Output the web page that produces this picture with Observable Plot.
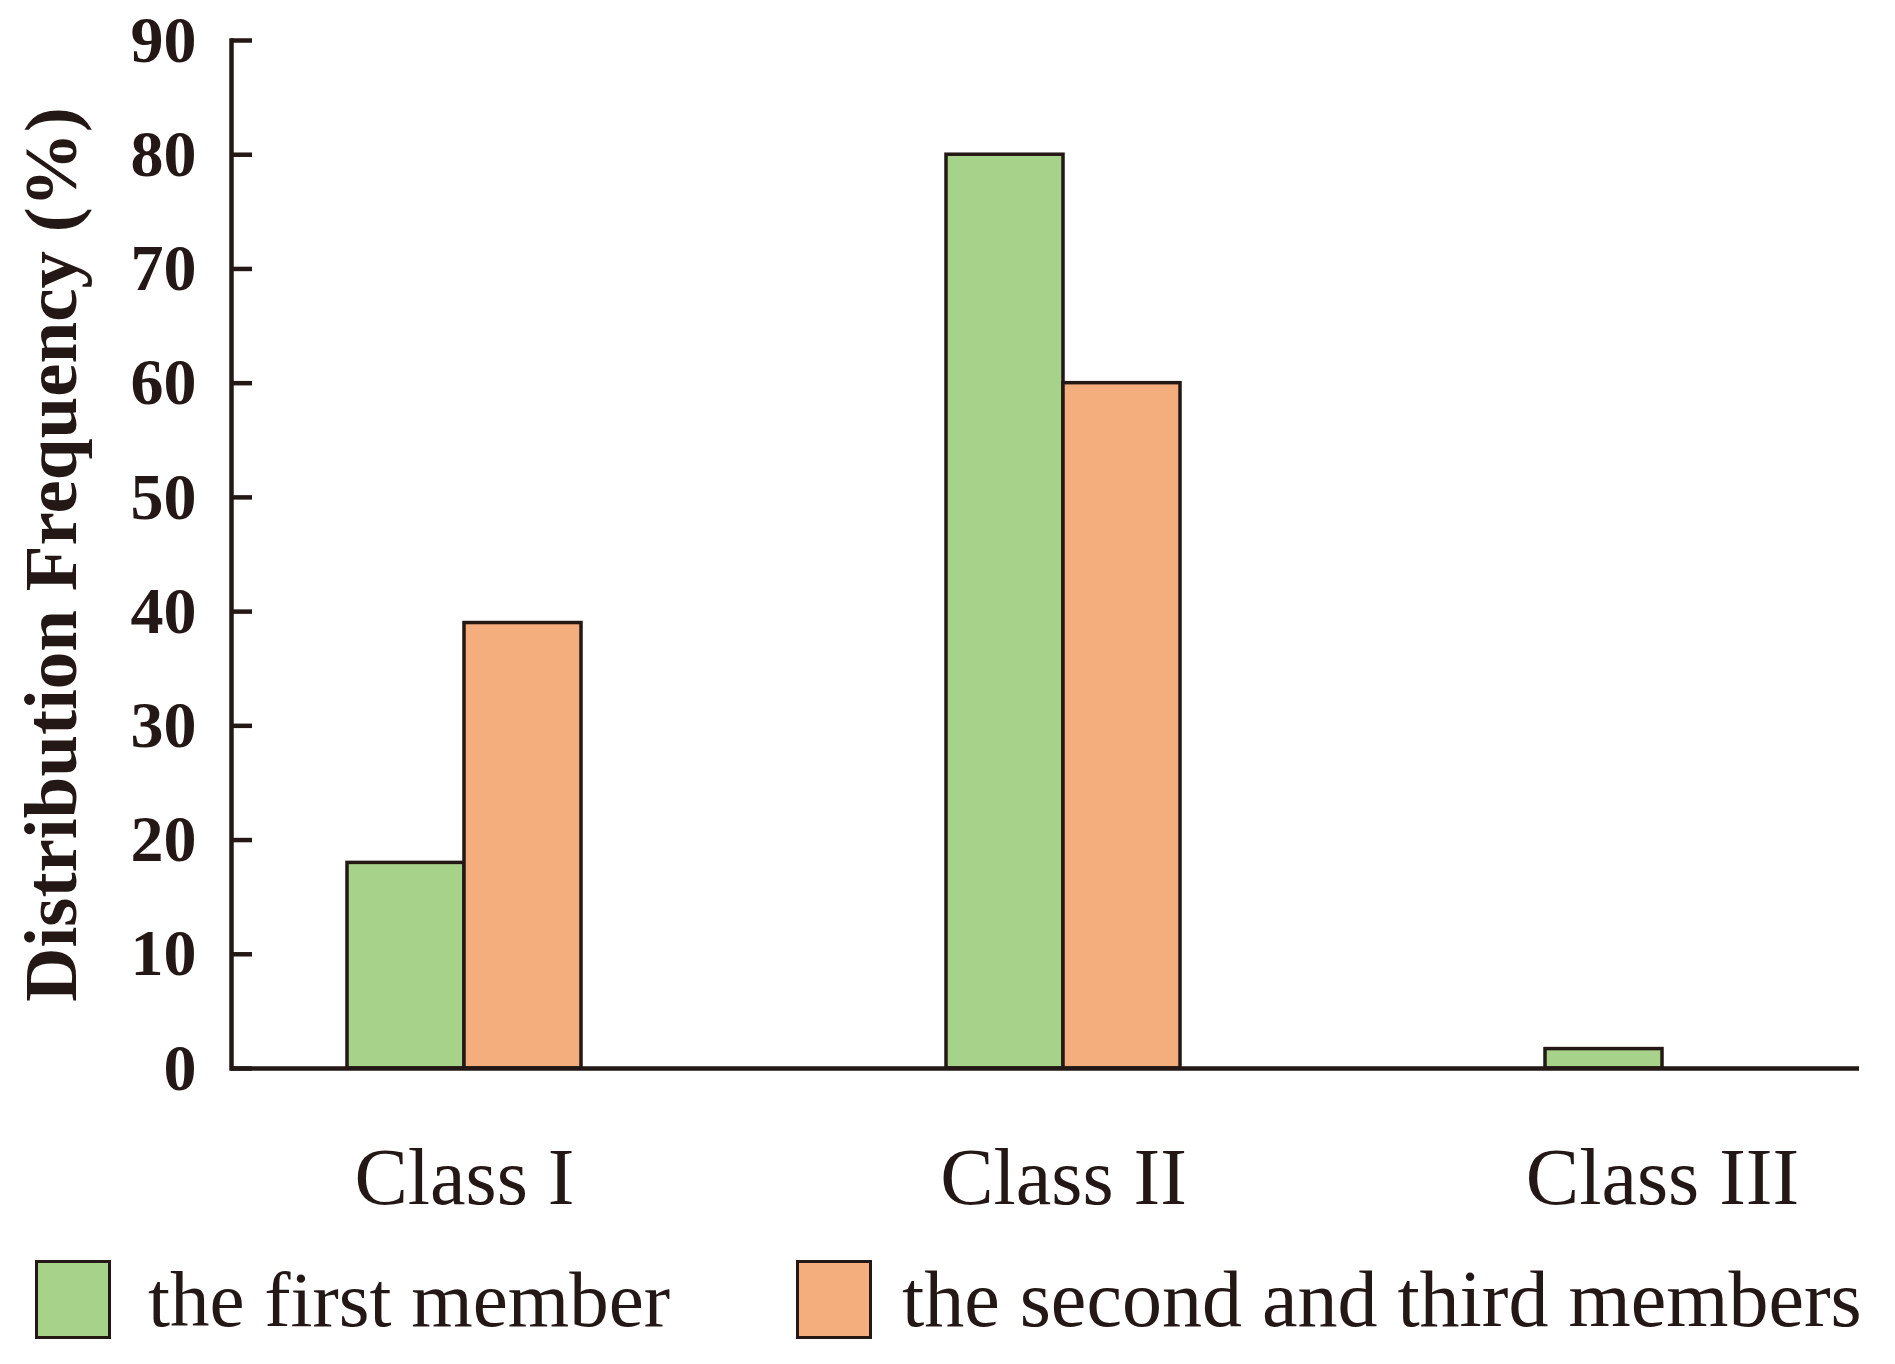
<!DOCTYPE html>
<html>
<head>
<meta charset="utf-8">
<script src="https://cdn.jsdelivr.net/npm/d3@7"></script>
<script src="https://cdn.jsdelivr.net/npm/@observablehq/plot@0.6"></script>
<style>
  html, body { margin: 0; padding: 0; background: #ffffff; }
  #chart { width: 1895px; }
  .legend { position: relative; width: 1895px; height: 134px; font-family: 'Liberation Serif', 'Times New Roman', serif; color: #231815; }
  .item { position: absolute; top: 30px; height: 79px; display: flex; align-items: center; }
  .item:nth-child(1) { left: 35px; }
  .item:nth-child(2) { left: 796px; }
  .sw { width: 76px; height: 79px; box-sizing: border-box; border: 3.5px solid #231815; }
  .item:nth-child(1) .lt { margin-left: 37px; }
  .item:nth-child(2) .lt { margin-left: 30px; }
  .lt { font-size: 79px; line-height: 79px; white-space: nowrap; }
  .item:nth-child(2) .lt { font-size: 80px; }
</style>
</head>
<body>
<div id="chart"></div>
<div class="legend" id="legend"></div>
<script>
const classes = ["Class I", "Class II", "Class III"];
const seriesNames = ["the first member", "the second and third members"];
const firstMember = [18, 80, 1.7];
const secondThirdMembers = [39, 60, 0];
const yTicks = [0, 10, 20, 30, 40, 50, 60, 70, 80, 90];
const yLabel = "Distribution Frequency (%)";
const colors = ["#A7D28A", "#F4AE7D"];
const dark = "#231815";

const firstRows = classes.map((c, i) => ({cls: c, series: seriesNames[0], value: firstMember[i]}));
const secondRows = classes.map((c, i) => ({cls: c, series: seriesNames[1], value: secondThirdMembers[i]}))
  .filter(d => d.value > 0);

const chart = Plot.plot({
  width: 1895,
  height: 1230,
  marginLeft: 231,
  marginRight: 36,
  marginTop: 40,
  marginBottom: 162,
  style: {fontFamily: "'Liberation Serif', 'Times New Roman', serif", color: dark, background: "#ffffff"},
  x: {domain: classes, paddingInner: 0.6098, paddingOuter: 0.162, align: 0.59, axis: null},
  y: {domain: [0, 90], axis: null},
  marks: [
    Plot.barY(firstRows, {x: "cls", y: "value", fill: colors[0], stroke: dark, strokeWidth: 3.5, insetRight: 117}),
    Plot.barY(secondRows, {x: "cls", y: "value", fill: colors[1], stroke: dark, strokeWidth: 3.5, insetLeft: 117}),
    Plot.ruleY([0], {stroke: dark, strokeWidth: 4.5}),
    Plot.frame({anchor: "left", stroke: dark, strokeWidth: 4.5}),
    Plot.axisY(yTicks, {tickSize: -21, fill: "none", stroke: dark, strokeWidth: 4.5, label: null}),
    Plot.axisY(yTicks, {tickSize: 0, tickPadding: 35, fontSize: 66, fontWeight: "bold", fill: dark, label: null}),
    Plot.axisX({tickSize: 0, tickPadding: 79, fontSize: 80, fill: dark, label: null}),
    Plot.text([yLabel], {frameAnchor: "left", dx: -180, rotate: -90, fontSize: 75, fontWeight: "bold", lineAnchor: "middle", textAnchor: "middle", fill: dark})
  ]
});
document.getElementById("chart").appendChild(chart);

const legend = document.getElementById("legend");
seriesNames.forEach((name, i) => {
  const item = document.createElement("div");
  item.className = "item";
  const sw = document.createElement("span");
  sw.className = "sw";
  sw.style.background = colors[i];
  const lt = document.createElement("span");
  lt.className = "lt";
  lt.textContent = name;
  item.appendChild(sw);
  item.appendChild(lt);
  legend.appendChild(item);
});
</script>
</body>
</html>
